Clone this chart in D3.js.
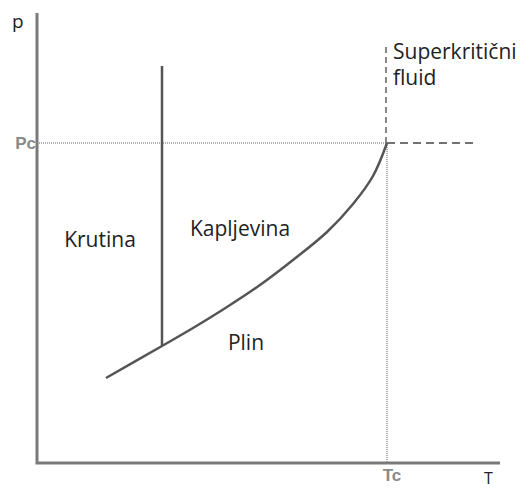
<!DOCTYPE html>
<html>
<head>
<meta charset="utf-8">
<script src="https://cdn.jsdelivr.net/npm/d3@7"></script>
<style>
  html, body { margin: 0; padding: 0; background: #fff; }
  svg { display: block; }
</style>
</head>
<body>
<svg id="chart" width="526" height="488"></svg>
<script>
// phase diagram, values in arbitrary T / p units
const critical = { T: 350, p: 320 };
const boundaryT = [69, 125, 156, 190, 223, 256, 290, 316, 336, 350];
const boundaryP = [85, 117, 135, 156, 178, 203, 231, 259, 287, 320];
const meltingT = 125;
const meltingP = [117, 397];
const regionLabels = ["Krutina", "Kapljevina", "Plin"];
const regionT = [63, 203, 209];
const regionP = [216, 227, 113];

const svg = d3.select("#chart");
const x = d3.scaleLinear().domain([0, 463]).range([37, 500]);
const y = d3.scaleLinear().domain([0, 450]).range([463, 13]);

// reference lines through the critical point
svg.append("line")
  .attr("x1", x(0)).attr("x2", x(critical.T))
  .attr("y1", y(critical.p)).attr("y2", y(critical.p))
  .attr("stroke", "#b0b0b0").attr("stroke-width", 2)
  .attr("stroke-dasharray", "1 1");
svg.append("line")
  .attr("x1", x(critical.T)).attr("x2", x(critical.T))
  .attr("y1", y(critical.p)).attr("y2", y(0))
  .attr("stroke", "#b0b0b0").attr("stroke-width", 2)
  .attr("stroke-dasharray", "1 1");

// supercritical boundaries (dashed)
svg.append("line")
  .attr("x1", x(critical.T)).attr("x2", x(437))
  .attr("y1", y(critical.p)).attr("y2", y(critical.p))
  .attr("stroke", "#444").attr("stroke-width", 1.6)
  .attr("stroke-dasharray", "8 5");
svg.append("line")
  .attr("x1", x(critical.T) - 1).attr("x2", x(critical.T) - 1)
  .attr("y1", y(critical.p)).attr("y2", y(417))
  .attr("stroke", "#555").attr("stroke-width", 1.4)
  .attr("stroke-dasharray", "6 4");

// axes
svg.append("path")
  .attr("d", `M${x(0)},${y(450)} L${x(0)},${y(0)} L${x(463)},${y(0)}`)
  .attr("fill", "none").attr("stroke", "#7a7a7a").attr("stroke-width", 3);

// melting line
svg.append("line")
  .attr("x1", x(meltingT)).attr("x2", x(meltingT))
  .attr("y1", y(meltingP[0])).attr("y2", y(meltingP[1]))
  .attr("stroke", "#555").attr("stroke-width", 2.5);

// vaporisation curve
const pts = boundaryT.map((t, i) => [t, boundaryP[i]]);
svg.append("path")
  .datum(pts)
  .attr("d", d3.line().x(d => x(d[0])).y(d => y(d[1])).curve(d3.curveCatmullRom.alpha(0.5)))
  .attr("fill", "none").attr("stroke", "#555").attr("stroke-width", 2.5);

// labels
const txt = "'Open Sans', sans-serif";
const fs = 21;
svg.selectAll("text.region")
  .data(regionLabels)
  .join("text")
  .attr("class", "region")
  .attr("x", (d, i) => x(regionT[i]))
  .attr("y", (d, i) => y(regionP[i]))
  .attr("text-anchor", "middle")
  .attr("font-family", txt).attr("font-size", fs)
  .attr("fill", "#222")
  .text(d => d);

svg.append("text")
  .attr("x", x(356)).attr("y", 59)
  .attr("font-family", txt).attr("font-size", fs).attr("fill", "#222")
  .text("Superkritični");
svg.append("text")
  .attr("x", x(356)).attr("y", 85)
  .attr("font-family", txt).attr("font-size", fs).attr("fill", "#222")
  .text("fluid");

svg.append("text")
  .attr("x", 12).attr("y", 28)
  .attr("font-family", txt).attr("font-size", 19).attr("fill", "#222")
  .text("p");
svg.append("text")
  .attr("x", 484).attr("y", 484)
  .attr("font-family", txt).attr("font-size", 16).attr("fill", "#222")
  .text("T");

svg.append("text")
  .attr("x", x(0) - 1).attr("y", y(critical.p) + 6)
  .attr("text-anchor", "end")
  .attr("font-family", "'Liberation Sans', Arial, sans-serif")
  .attr("font-weight", "bold").attr("font-size", 17).attr("fill", "#8a8a8a")
  .text("Pc");
svg.append("text")
  .attr("x", x(critical.T) + 5).attr("y", 481)
  .attr("text-anchor", "middle")
  .attr("font-family", "'Liberation Sans', Arial, sans-serif")
  .attr("font-weight", "bold").attr("font-size", 17).attr("fill", "#8a8a8a")
  .text("Tc");
</script>
</body>
</html>
